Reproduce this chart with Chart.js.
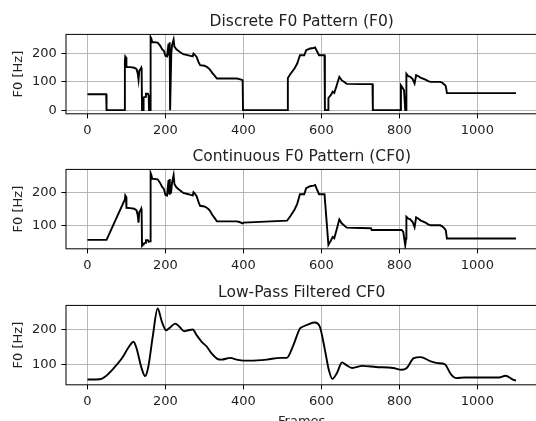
<!DOCTYPE html>
<html><head><meta charset="utf-8">
<script src="https://cdn.jsdelivr.net/npm/chart.js@4.4.0/dist/chart.umd.min.js"></script>
<style>
html,body{margin:0;padding:0;background:#fff;overflow:hidden;width:536px;height:421px;}
#wrap{position:relative;width:536px;height:421px;overflow:hidden;background:#fff;}
canvas{position:absolute;left:0;}
</style></head><body>
<div id="wrap">
<canvas id="c1"></canvas><canvas id="c2"></canvas><canvas id="c3"></canvas>
</div>
<script>
// ---- data ----
const TITLE_F0 = "Discrete F0 Pattern (F0)";
const TITLE_CF0 = "Continuous F0 Pattern (CF0)";
const TITLE_LPF = "Low-Pass Filtered CF0";
const Y_LABEL = "F0 [Hz]";
const X_LABEL = "Frames";
const X_TICKS = [0, 200, 400, 600, 800, 1000];
const F0_Y_TICKS = [0, 100, 200];
const CF0_Y_TICKS = [100, 200];
const LPF_Y_TICKS = [100, 200];

const F0_FRAMES = [0,48,49,95,96,97,99,100,110,120,126,129,131,133,136,138,139,140,143,144,148,150,155,157,158,161,162,164,166,180,186,192,196,200,204,208,209,210,211,212,214,215,217,221,223,228,233,238,246,259,270,272,276,280,285,289,300,306,312,316,320,325,332,383,390,398,399,513,514,521,531,538,545,556,561,571,580,584,588,594,608,609,617,618,624,629,633,638,646,652,665,700,731,732,803,804,807,812,815,817,818,823,828,834,839,843,849,854,867,874,880,905,910,916,919,922,1099];
const F0_VALUES = [56,56,0,0,170,190,186,153,152,150,145,130,108,140,145,150,140,0,0,45,47,58,58,52,0,0,258,252,241,239,229,215,210,192,190,235,200,193,240,0,0,200,230,250,225,215,210,205,198,194,190,200,195,188,170,159,157,153,147,140,132,124,112,112,110,106,0,0,114,129,147,165,194,194,212,218,220,222,210,194,194,0,0,43,53,65,61,82,118,106,93,92,92,0,0,88,82,70,0,0,129,120,118,110,94,124,120,115,108,103,100,100,97,90,85,60,60];

const CF0_FRAMES = [0,49,96,97,99,100,110,120,126,129,131,133,136,138,139,140,143,144,148,150,155,157,161,162,164,166,180,186,192,196,200,204,208,209,210,211,212,214,215,217,221,223,228,233,238,246,259,270,272,276,280,285,289,300,306,312,316,320,325,332,383,390,398,400,512,514,521,531,538,545,556,561,571,580,584,588,594,608,618,624,629,633,638,646,652,665,700,727,729,806,810,815,817,818,823,828,834,839,843,849,854,867,874,880,905,910,916,919,922,1099];
const CF0_VALUES = [56,56,178,190,186,153,152,150,145,130,108,140,145,150,140,38,42,45,47,55,55,50,52,258,252,241,239,229,215,210,192,190,237,202,195,240,198,200,205,230,252,225,215,210,205,198,194,190,200,195,188,170,159,157,153,147,140,132,124,112,112,110,106,108,114,114,129,147,165,194,194,212,218,220,222,210,194,194,41,53,65,61,82,118,106,93,92,91,86,86,80,40,60,126,120,118,110,94,124,120,115,108,103,100,100,97,90,85,60,60];

const LPF_FRAMES = [0,32,45,67,88,109,118,126,139,148,156,168,180,191,202,212,225,236,248,259,270,280,293,306,319,332,344,366,383,400,417,460,494,511,528,545,552,565,583,596,609,619,628,640,653,663,679,705,740,784,806,819,837,854,881,898,916,933,946,968,1003,1056,1072,1091,1099];
const LPF_VALUES = [56,57,64,88,116,154,164,145,88,66,92,183,259,221,197,205,216,207,194,197,199,183,164,150,130,116,113,118,113,110,110,113,118,118,154,202,207,213,219,207,141,84,58,75,105,98,89,95,92,89,84,89,117,120,108,103,100,70,60,62,62,62,67,56,53];

// ---- drawing ----
const FONT = "'DejaVu Sans', sans-serif";
const TXT = '#222';
const AREA_TOP = 34.4;
const AREA_H = 79.4;
const CANVAS_W = 540;
const AREA_RIGHT = 537.4;      // right edge of the axes box (falls just outside the window)

const frameBox = {
  id: 'frameBox',
  afterDatasetsDraw(chart) {
    const a = chart.chartArea, c = chart.ctx;
    c.save();
    c.strokeStyle = '#000';
    c.lineWidth = 1;
    c.strokeRect(a.left, a.top, a.right - a.left, a.bottom - a.top);
    c.restore();
  }
};

function pts(fr, vals) { return fr.map((f, i) => ({x: f, y: vals[i]})); }

function makeChart(id, top, height, title, frames, values, yMin, yMax, yTicks, xLabel, smooth) {
  const cv = document.getElementById(id);
  cv.width = CANVAS_W; cv.height = height;
  cv.style.top = top + 'px';
  cv.style.width = CANVAS_W + 'px'; cv.style.height = height + 'px';
  const tickFont = {family: FONT, size: 13};
  new Chart(cv, {
    type: 'line',
    data: {datasets: [{
      data: pts(frames, values),
      borderColor: '#000', borderWidth: 1.9, pointRadius: 0,
      tension: smooth ? 0.4 : 0,
      cubicInterpolationMode: smooth ? 'monotone' : 'default',
      fill: false
    }]},
    options: {
      responsive: false, animation: false, devicePixelRatio: 1,
      layout: {padding: {left: 0, right: CANVAS_W - AREA_RIGHT, top: 0, bottom: 0}},
      plugins: {
        legend: {display: false}, tooltip: {enabled: false},
        title: {display: true, fullSize: false, text: title, color: TXT,
          font: {family: FONT, size: 15.5, weight: 'normal'},
          padding: {top: 12.8, bottom: AREA_TOP - 12.8 - 15.5 * 1.2}}
      },
      scales: {
        x: {
          type: 'linear', min: -55, max: 1154,
          afterBuildTicks: s => { s.ticks = X_TICKS.map(v => ({value: v})); },
          afterFit: s => { s.height = height - AREA_TOP - AREA_H; },
          grid: {color: '#b0b0b0', lineWidth: 0.9, tickColor: '#000', tickLength: 4.6, tickWidth: 1},
          border: {display: false},
          ticks: {color: TXT, font: tickFont, padding: 4.2, maxRotation: 0, autoSkip: false,
            callback: v => String(v)},
          title: {display: !!xLabel, text: xLabel || '', color: TXT, font: tickFont,
            padding: {top: 0, bottom: 11.7}}
        },
        y: {
          type: 'linear', min: yMin, max: yMax,
          afterBuildTicks: s => { s.ticks = yTicks.map(v => ({value: v})); },
          afterFit: s => { s.width = 66; },
          grid: {color: '#b0b0b0', lineWidth: 0.9, tickColor: '#000', tickLength: 4.6, tickWidth: 1},
          border: {display: false},
          ticks: {color: TXT, font: tickFont, padding: 4.6, callback: v => String(v)},
          title: {display: true, text: Y_LABEL, color: TXT, font: tickFont,
            padding: {top: 10.5, bottom: 0}}
        }
      }
    },
    plugins: [frameBox]
  });
}

makeChart('c1', 0, 135, TITLE_F0, F0_FRAMES, F0_VALUES, -13, 268, F0_Y_TICKS, null, false);
makeChart('c2', 135, 135, TITLE_CF0, CF0_FRAMES, CF0_VALUES, 29, 269, CF0_Y_TICKS, null, false);
makeChart('c3', 271, 170, TITLE_LPF, LPF_FRAMES, LPF_VALUES, 41, 268, LPF_Y_TICKS, X_LABEL, true);
</script>
</body></html>
